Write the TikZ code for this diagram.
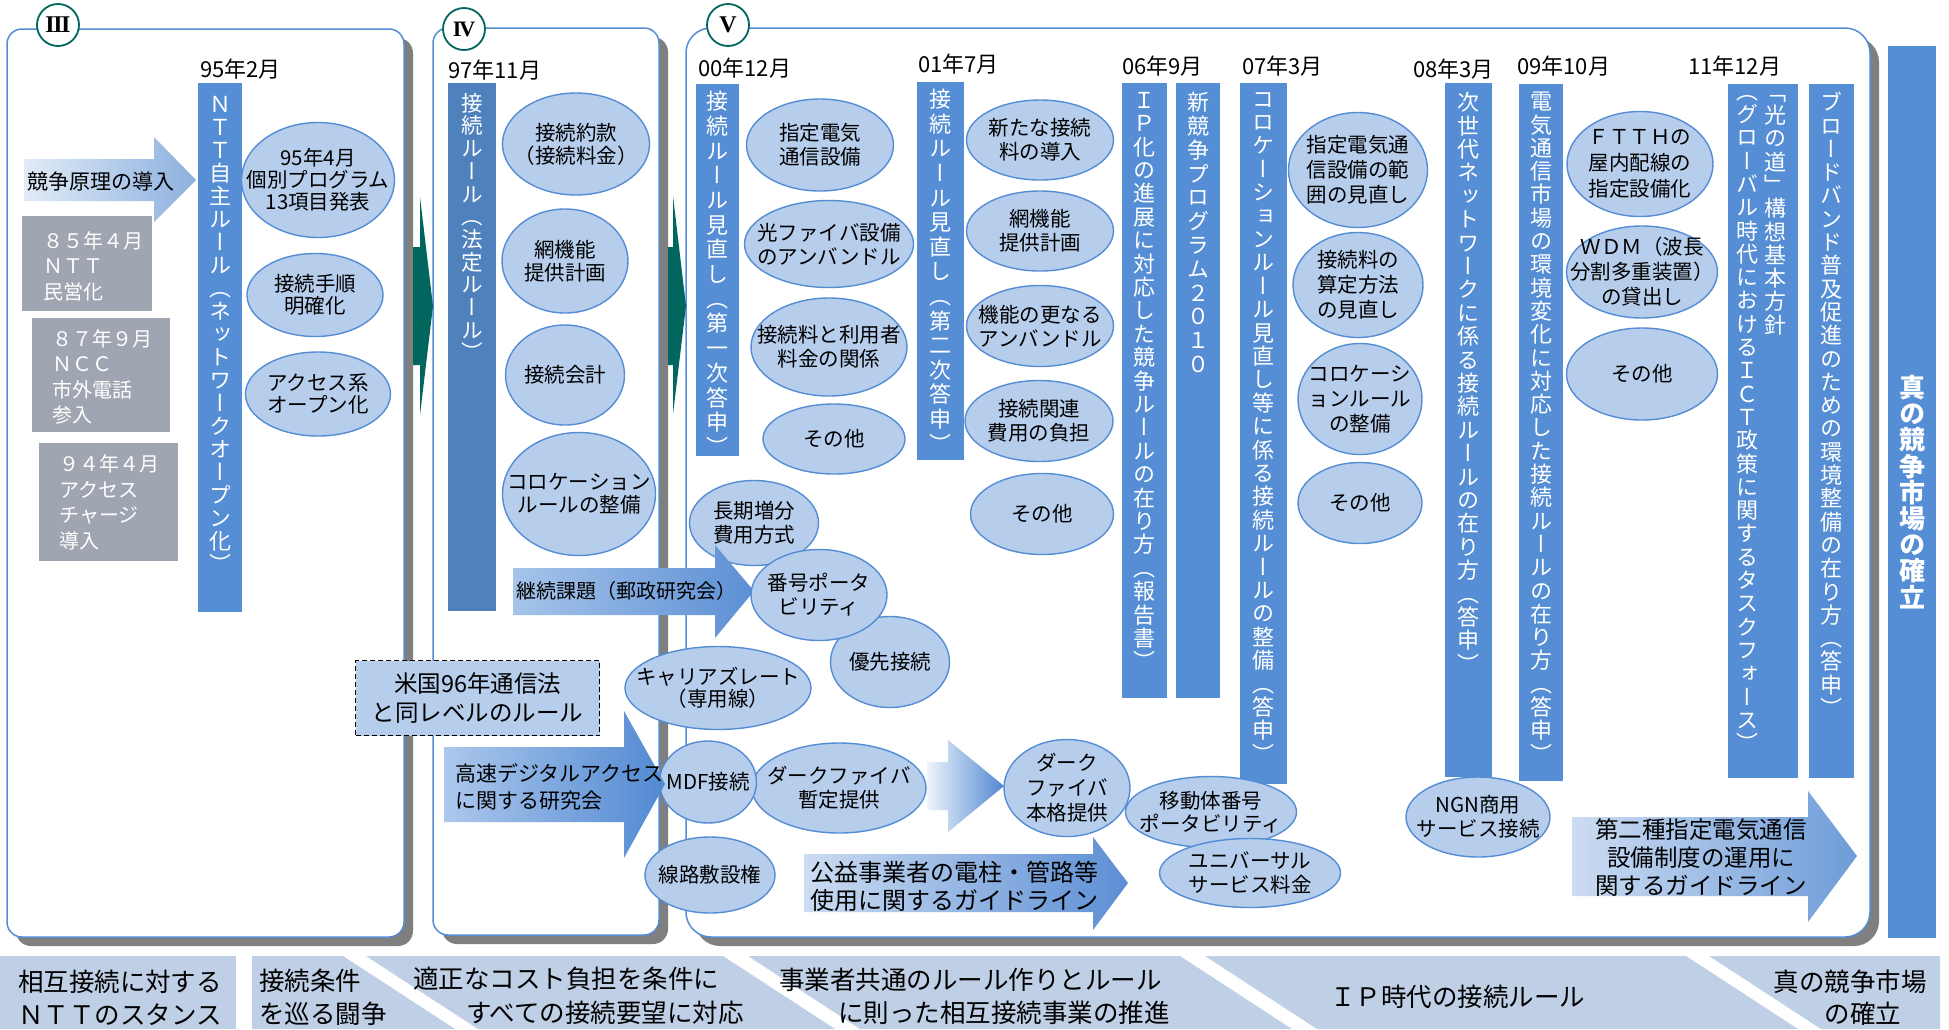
\documentclass[tikz,border=0pt]{standalone}
\usepackage{fontspec}
\newfontfamily\jp{Noto Sans CJK JP}
\newfontfamily\jpv[RawFeature=+vert]{Noto Sans CJK JP}
\newfontfamily\numf{Liberation Serif}
\usetikzlibrary{shapes.geometric}
\definecolor{pline}{RGB}{84,141,212}
\definecolor{shadowgray}{RGB}{127,127,127}
\definecolor{barblue}{RGB}{85,142,213}
\definecolor{bardark}{RGB}{79,129,189}
\definecolor{bubfill}{RGB}{183,205,236}
\definecolor{bubline}{RGB}{84,141,212}
\definecolor{graybox}{RGB}{160,166,177}
\definecolor{band}{RGB}{191,207,229}
\definecolor{tealc}{RGB}{0,102,94}
\def\vtend{\relax}
\def\vtloop#1{\ifx#1\vtend\else\hbox to 1em{\hss#1\hss}\expandafter\vtloop\fi}
\newcommand\vtext[2]{\vbox{\baselineskip=#1pt\lineskiplimit=-\maxdimen\lineskip=0pt\vtloop#2\vtend}}
\tikzset{
 bub/.style={ellipse, draw=bubline, fill=bubfill, line width=1.4pt, inner sep=0pt, outer sep=0pt},
 btxt/.style={align=center, inner sep=0pt},
 vtxt/.style={inner sep=0pt, text=white, anchor=north},
 date/.style={font=\jp\fontsize{22}{22}\selectfont, inner sep=0pt, anchor=west},
 gtxt/.style={font=\jp\fontsize{20}{25.5}\selectfont, text=white, align=left, inner sep=0pt, anchor=west},
 atxt/.style={font=\jp\fontsize{21}{27}\selectfont, align=left, inner sep=0pt},
 bandtxt/.style={font=\jp\fontsize{25.5}{33}\selectfont, inner sep=0pt},
 numcirc/.style={circle, draw=tealc, line width=1.8pt, fill=white, minimum size=42pt, inner sep=0pt},
 panelbox/.style={fill=white, draw=pline, line width=1.5pt},
}
\newcommand\bubble[7][24]{\node[bub,minimum width=#5pt,minimum height=#6pt] (#2) at (#3,#4) {};\node[btxt,font=\jp\fontsize{20.5}{#1}\selectfont] (#2t) at (#2.center) {#7};}
\newcommand\rbox[6]{\node[fill=#6,inner sep=0pt,outer sep=0pt,minimum width={(#4)-(#2)},minimum height={(#5)-(#3)},anchor=north west] (#1) at (#2,#3) {};}
\newcommand\vlab[7]{\node[vtxt,font=#4\fontsize{#5}{#5}\selectfont] (#1) at (#2,#3) {\vtext{#6}{#7}};}
\begin{document}
\begin{tikzpicture}[x=1pt,y=-1pt]
\useasboundingbox (0,0) rectangle (1949,1029);
\fill[white] (0,0) rectangle (1949,1029);
% panels
\fill[shadowgray,rounded corners=15] (16,38) rectangle (413,946);
\path[panelbox,rounded corners=15] (7,29) rectangle (404,937);
\fill[shadowgray,rounded corners=15] (442,37) rectangle (668,944);
\path[panelbox,rounded corners=15] (433,28) rectangle (659,935);
\fill[shadowgray,rounded corners=25] (695,37) rectangle (1879,946);
\path[panelbox,rounded corners=25] (686,28) rectangle (1870,937);
% teal arrows
\fill[tealc] (413,247) -- (420,247) -- (420,197) -- (433,306) -- (420,415) -- (420,365) -- (413,365) -- cycle;
\fill[tealc] (668,247) -- (673,247) -- (673,196) -- (686,306) -- (673,414) -- (673,365) -- (668,365) -- cycle;
% circle labels
\node[numcirc] (c3) at (58,25) {\numf\fontsize{24}{24}\selectfont\bfseries I\kern-1.5pt I\kern-1.5pt I};
\node[numcirc] (c4) at (464,29) {\numf\fontsize{22}{22}\selectfont\bfseries I\kern-2pt V};
\node[numcirc] (c5) at (728,25) {\numf\fontsize{24}{24}\selectfont\bfseries V};
% ===== Panel III =====
\path[left color={rgb,255:red,226;green,235;blue,248}, right color={rgb,255:red,140;green,176;blue,222}]
 (24,159) -- (154,159) -- (154,137) -- (196,180) -- (154,222) -- (154,201) -- (24,201) -- cycle;
\node[atxt,anchor=west] (kyoso) at (27,182) {競争原理の導入};
\rbox{g1}{22}{216}{152}{311}{graybox}
\rbox{g2}{32}{318}{170}{432}{graybox}
\rbox{g3}{39}{443}{178}{561}{graybox}
\node[gtxt] (g1t) at (43,266) {８５年４月\\ＮＴＴ\\民営化};
\node[gtxt] (g2t) at (52,377) {８７年９月\\ＮＣＣ\\市外電話\\参入};
\node[gtxt] (g3t) at (59,502.5) {９４年４月\\アクセス\\チャージ\\導入};
\node[date] (d95) at (200,69) {95年2月};
\rbox{nttbar}{198}{83}{242}{612}{barblue}
\vlab{ntttxt}{220}{96}{\jpv}{22}{23}{ＮＴＴ自主ルール（ネットワークオープン化）}
\bubble[22]{b1}{318}{180}{153}{115}{95年4月\\個別プログラム\\13項目発表}
\bubble[22]{b2}{315}{295}{136}{83}{接続手順\\明確化}
\bubble[22]{b3}{318}{394}{145}{84}{アクセス系\\オープン化}
% ===== Panel IV =====
\node[date] (d97) at (448,70) {97年11月};
\rbox{p4bar}{448}{83}{496}{611}{bardark}
\vlab{p4txt}{472}{93}{\jpv}{21.5}{22.7}{接続ルール（法定ルール）}
\bubble[23]{b4}{576}{144}{147}{102}{接続約款\\（接続料金）}
\bubble[23]{b5}{565}{261}{126}{104}{網機能\\提供計画}
\bubble{b6}{565}{375}{119}{100}{接続会計}
\bubble[23]{b7}{579}{494}{153}{123}{コロケーション\\ルールの整備}
% ===== Panel V upper =====
\node[date] (d00) at (698,68) {00年12月};
\rbox{v1bar}{696}{84}{739}{456}{barblue}
\vlab{v1txt}{717.5}{91}{\jpv}{22}{24.7}{接続ルール見直し（第一次答申）}
\bubble{b8}{820}{145}{147}{92}{指定電気\\通信設備}
\bubble{b9}{829}{244}{169}{87}{光ファイバ設備\\のアンバンドル}
\bubble{b10}{829}{347}{156}{98}{接続料と利用者\\料金の関係}
\bubble{b11}{834}{439}{142}{70}{その他}
\node[date] (d01) at (918,64) {01年7月};
\rbox{v2bar}{917}{82}{964}{460}{barblue}
\vlab{v2txt}{940.5}{89}{\jpv}{22}{24.6}{接続ルール見直し（第二次答申）}
\bubble{b12}{1040}{140}{147}{80}{新たな接続\\料の導入}
\bubble{b13}{1040}{231}{147}{80}{網機能\\提供計画}
\bubble{b14}{1040}{326}{147}{81}{機能の更なる\\アンバンドル}
\bubble{b15}{1039}{421}{148}{81}{接続関連\\費用の負担}
\bubble{b16}{1042}{514}{143}{81}{その他}
\node[date] (d06) at (1122,66) {06年9月};
\rbox{ipbar}{1122}{83}{1167}{698}{barblue}
\vlab{iptxt}{1144.5}{92}{\jpv}{22}{23.4}{ＩＰ化の進展に対応した競争ルールの在り方（報告書）}
\rbox{shinbar}{1176}{83}{1220}{698}{barblue}
\vlab{shintxt}{1198}{92}{\jpv}{22}{23.8}{新競争プログラム２０１０}
\node[date] (d07) at (1242,66) {07年3月};
\rbox{colbar}{1240}{83}{1287}{784}{barblue}
\vlab{coltxt}{1263.5}{92}{\jpv}{22}{23.4}{コロケーションルール見直し等に係る接続ルールの整備（答申）}
\bubble[25]{b17}{1358}{170}{139}{115}{指定電気通\\信設備の範\\囲の見直し}
\bubble[25]{b18}{1358}{285}{130}{105}{接続料の\\算定方法\\の見直し}
\bubble[25]{b19}{1360}{399}{124}{111}{コロケーシ\\ョンルール\\の整備}
\bubble{b20}{1360}{503}{124}{81}{その他}
\node[date] (d08) at (1413,69) {08年3月};
\rbox{jsbar}{1445}{83}{1492}{777}{barblue}
\vlab{jstxt}{1468.5}{92}{\jpv}{22}{23.4}{次世代ネットワークに係る接続ルールの在り方（答申）}
\node[date] (d09) at (1517,66) {09年10月};
\rbox{dnbar}{1519}{84}{1563}{781}{barblue}
\vlab{dntxt}{1541}{92}{\jpv}{22}{23.3}{電気通信市場の環境変化に対応した接続ルールの在り方（答申）}
\bubble[26]{b21}{1640}{164}{146}{105}{ＦＴＴＨの\\屋内配線の\\指定設備化}
\bubble[25]{b22}{1642}{272}{151}{92}{ＷＤＭ（波長\\分割多重装置）\\の貸出し}
\bubble{b23}{1642}{374}{151}{92}{その他}
\node[date] (d11) at (1688,66) {11年12月};
\rbox{hkbar}{1728}{84}{1798}{778}{barblue}
\vlab{hktxtR}{1775}{95}{\jpv}{22}{23.3}{「光の道」構想基本方針}
\vlab{hktxtL}{1747}{95}{\jpv}{22}{23.3}{（グローバル時代におけるＩＣＴ政策に関するタスクフォース）}
\rbox{bbbar}{1809}{84}{1854}{778}{barblue}
\vlab{bbtxt}{1831.5}{92}{\jpv}{22}{23.3}{ブロードバンド普及促進のための環境整備の在り方（答申）}
\rbox{truebar}{1888}{46}{1936}{938}{barblue}
\vlab{truetxt}{1912}{375}{\jpv\bfseries}{26}{26.2}{真の競争市場の確立}
% ===== Panel V lower =====
\bubble{b24}{754}{523}{129}{85}{長期増分\\費用方式}
\path[left color={rgb,255:red,166;green,196;blue,234}, right color={rgb,255:red,92;green,143;blue,212}]
 (513,568) -- (715,568) -- (715,545) -- (754,591) -- (715,638) -- (715,615) -- (513,615) -- cycle;
\node[atxt,font=\jp\fontsize{20}{20}\selectfont,anchor=west] (keizoku) at (516,591) {継続課題（郵政研究会）};
\bubble{b25}{890}{662}{119}{91}{優先接続}
\bubble{b26}{819}{595}{136}{91}{番号ポータ\\ビリティ}
\bubble[22]{b27}{718}{688}{186}{83}{キャリアズレート\\（専用線）}
\node[draw=black, dashed, line width=1.4pt, dash pattern=on 5pt off 3pt, fill=bubfill, inner sep=0pt, minimum width=244pt, minimum height=75pt, anchor=north west] (usbox) at (355,660) {};
\node[btxt,font=\jp\fontsize{23.5}{29}\selectfont] (ustxt) at (usbox.center) {米国96年通信法\\と同レベルのルール};
\bubble{b28}{839}{788}{174}{90}{ダークファイバ\\暫定提供}
\bubble{b29}{708}{782}{97}{82}{MDF接続}
\path[left color={rgb,255:red,172;green,200;blue,236}, right color={rgb,255:red,82;green,137;blue,210}]
 (444,747) -- (624,747) -- (624,711) -- (665,784) -- (624,858) -- (624,822) -- (444,822) -- cycle;
\node[atxt] (kosoku) at (455,786.5) [anchor=west] {高速デジタルアクセス\\に関する研究会};
\path[left color={rgb,255:red,238;green,244;blue,252}, right color={rgb,255:red,80;green,135;blue,208}]
 (927,762) -- (948,762) -- (948,740) -- (1004,786) -- (948,832) -- (948,810) -- (927,810) -- cycle;
\bubble[25]{b30}{1067}{788}{126}{97}{ダーク\\ファイバ\\本格提供}
\bubble{b31}{710}{875}{130}{76}{線路敷設権}
\path[left color={rgb,255:red,204;green,220;blue,242}, right color={rgb,255:red,92;green,142;blue,212}]
 (804,854) -- (1093,854) -- (1093,837) -- (1128,883) -- (1093,930) -- (1093,912) -- (804,912) -- cycle;
\node[atxt,font=\jp\fontsize{24}{28}\selectfont,anchor=west] (koeki) at (810,886) {公益事業者の電柱・管路等\\使用に関するガイドライン};
\bubble[23]{b32}{1211}{812}{171}{71}{移動体番号\\ポータビリティ}
\bubble[24]{b33}{1250}{873}{181}{69}{ユニバーサル\\サービス料金}
\bubble{b34}{1478}{817}{144}{80}{NGN商用\\サービス接続}
\path[left color={rgb,255:red,204;green,220;blue,242}, right color={rgb,255:red,110;green,156;blue,216}]
 (1572,817) -- (1808,817) -- (1808,791) -- (1857,856) -- (1808,922) -- (1808,896) -- (1572,896) -- cycle;
\node[btxt,font=\jp\fontsize{23.5}{28}\selectfont] (daini) at (1701,858) {第二種指定電気通信\\設備制度の運用に\\関するガイドライン};
% ===== bottom band =====
\fill[band] (0,956) rectangle (236,1029);
\fill[band] (252,956) -- (343,956) -- (455,1029) -- (252,1029) -- cycle;
\fill[band] (366,956) -- (723,956) -- (835,1029) -- (478,1029) -- cycle;
\fill[band] (748,956) -- (1180,956) -- (1292,1029) -- (860,1029) -- cycle;
\fill[band] (1205,956) -- (1686,956) -- (1798,1029) -- (1317,1029) -- cycle;
\fill[band] (1709,956) -- (1940,956) -- (1940,1029) -- (1821,1029) -- cycle;
\node[bandtxt,align=center] (s1) at (120,997.5) {相互接続に対する\\ＮＴＴのスタンス};
\node[bandtxt,align=left,anchor=west] (s2) at (259,997.5) {接続条件\\を巡る闘争};
\node[bandtxt,anchor=west] (s3a) at (413,979) {適正なコスト負担を条件に};
\node[bandtxt,anchor=west] (s3b) at (466,1013) {すべての接続要望に対応};
\node[bandtxt,anchor=west] (s4a) at (779,980) {事業者共通のルール作りとルール};
\node[bandtxt,anchor=west] (s4b) at (838,1013) {に則った相互接続事業の推進};
\node[bandtxt,anchor=west] (s5) at (1330,997) {ＩＰ時代の接続ルール};
\node[bandtxt] (s6a) at (1850,982) {真の競争市場};
\node[bandtxt] (s6b) at (1863,1014) {の確立};
\end{tikzpicture}
\end{document}
